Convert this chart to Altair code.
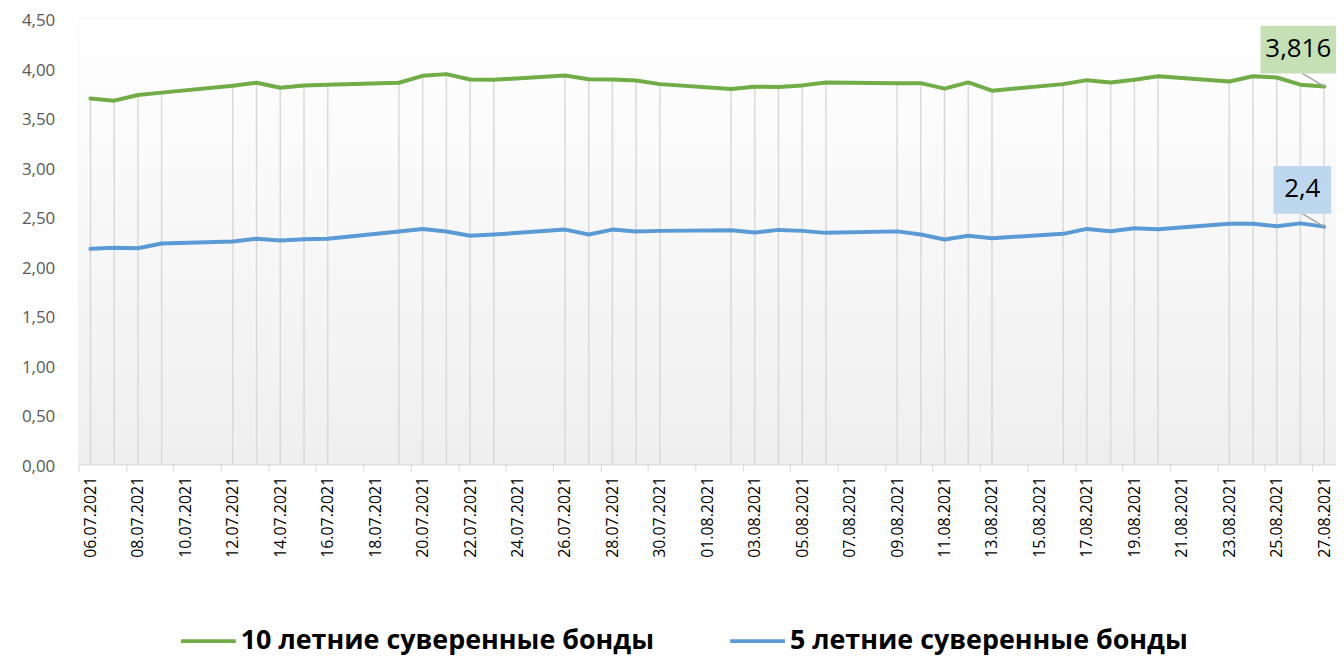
import altair as alt
import pandas as pd

# ---- data ----
dates = [
    "2021-07-06", "2021-07-07", "2021-07-08", "2021-07-09",
    "2021-07-12", "2021-07-13", "2021-07-14", "2021-07-15", "2021-07-16",
    "2021-07-19", "2021-07-20", "2021-07-21", "2021-07-22", "2021-07-23",
    "2021-07-26", "2021-07-27", "2021-07-28", "2021-07-29", "2021-07-30",
    "2021-08-02", "2021-08-03", "2021-08-04", "2021-08-05", "2021-08-06",
    "2021-08-09", "2021-08-10", "2021-08-11", "2021-08-12", "2021-08-13",
    "2021-08-16", "2021-08-17", "2021-08-18", "2021-08-19", "2021-08-20",
    "2021-08-23", "2021-08-24", "2021-08-25", "2021-08-26", "2021-08-27",
]
bonds_10y = [
    3.693, 3.672, 3.729, 3.753,
    3.823, 3.853, 3.803, 3.826, 3.833,
    3.853, 3.923, 3.940, 3.886, 3.883,
    3.926, 3.889, 3.886, 3.876, 3.839,
    3.789, 3.813, 3.809, 3.826, 3.856,
    3.848, 3.849, 3.793, 3.856, 3.773,
    3.839, 3.879, 3.856, 3.883, 3.919,
    3.866, 3.919, 3.906, 3.833, 3.816,
]
bonds_5y = [
    2.176, 2.186, 2.182, 2.229,
    2.249, 2.277, 2.260, 2.273, 2.277,
    2.350, 2.377, 2.350, 2.308, 2.320,
    2.370, 2.320, 2.370, 2.350, 2.357,
    2.363, 2.340, 2.367, 2.357, 2.337,
    2.352, 2.320, 2.270, 2.307, 2.283,
    2.327, 2.377, 2.353, 2.383, 2.373,
    2.430, 2.430, 2.403, 2.433, 2.400,
]
series_names = ["10 летние суверенные бонды", "5 летние суверенные бонды"]
series_colors = ["#70ad47", "#5b9bd5"]
last_labels = ["3,816", "2,4"]
y_ticks = [0, 0.5, 1.0, 1.5, 2.0, 2.5, 3.0, 3.5, 4.0, 4.5]
x_label_days = [
    (7, 6), (7, 8), (7, 10), (7, 12), (7, 14), (7, 16), (7, 18), (7, 20),
    (7, 22), (7, 24), (7, 26), (7, 28), (7, 30), (8, 1), (8, 3), (8, 5),
    (8, 7), (8, 9), (8, 11), (8, 13), (8, 15), (8, 17), (8, 19), (8, 21),
    (8, 23), (8, 25), (8, 27),
]

# ---- tables ----
wide = pd.DataFrame({"date": dates, "v10": bonds_10y, "v5": bonds_5y})
long = pd.concat([
    pd.DataFrame({"date": dates, "value": bonds_10y, "series": series_names[0]}),
    pd.DataFrame({"date": dates, "value": bonds_5y, "series": series_names[1]}),
], ignore_index=True)
lab10 = pd.DataFrame({"date": [dates[-1]], "value": [bonds_10y[-1]], "label": [last_labels[0]]})
lab5 = pd.DataFrame({"date": [dates[-1]], "value": [bonds_5y[-1]], "label": [last_labels[1]]})

W, H = 1264, 448
FONT = "Open Sans"

x_scale = alt.Scale(
    type="utc",
    domain=[alt.DateTime(year=2021, month=7, date=5, hours=12, utc=True),
            alt.DateTime(year=2021, month=8, date=27, hours=12, utc=True)],
)
x_axis = alt.Axis(
    values=[alt.DateTime(year=2021, month=m, date=d, utc=True) for m, d in x_label_days],
    labelExpr="utcFormat(datum.value, '%d.%m.%Y')",
    labelAngle=-90, labelFontSize=16,
    labelColor="#000000", labelFont=FONT, labelPadding=5, labelOverlap=False,
    labelFlush=False, labelBound=False, tickOffset=-12, labelOffset=12,
    tickSize=7, tickColor="#d9d9d9", domainColor="#d9d9d9", domainWidth=1,
    grid=False, title=None,
)
x_enc = alt.X("date:T", scale=x_scale, axis=x_axis)
y_scale = alt.Scale(domain=[0, 4.5], nice=False, zero=True)
y_axis = alt.Axis(
    values=y_ticks, format=".2f", labelExpr="replace(datum.label, '.', ',')",
    labelFontSize=17, labelColor="#595959", labelFont=FONT, labelPadding=24,
    labelOffset=2,
    ticks=False, tickSize=0, domain=False, grid=False, title=None, labelFlush=False,
)

bg = alt.Chart(pd.DataFrame({"a": [0]})).mark_rect(
    color=alt.Gradient(
        gradient="linear", x1=0, x2=0, y1=0, y2=1,
        stops=[alt.GradientStop(offset=0, color="#ffffff"),
               alt.GradientStop(offset=0.12, color="#fdfdfd"),
               alt.GradientStop(offset=1, color="#efefef")],
    )
).encode(x=alt.value(0), x2=alt.value(W), y=alt.value(0), y2=alt.value(H))

drops = alt.Chart(wide).mark_rule(color="#d9d9d9", strokeWidth=1.5).encode(
    x=x_enc,
    y=alt.Y("v10:Q", scale=y_scale, axis=y_axis),
    y2=alt.Y2(datum=0),
)

lines = alt.Chart(long).mark_line(strokeWidth=4, strokeCap="round", strokeJoin="round").encode(
    x=x_enc,
    y=alt.Y("value:Q", scale=y_scale, axis=y_axis),
    color=alt.Color(
        "series:N",
        scale=alt.Scale(domain=series_names, range=series_colors),
        sort=series_names,
        legend=alt.Legend(
            title=None, orient="none", legendX=101, legendY=596, direction="horizontal",
            symbolType="stroke", symbolSize=3025, symbolStrokeWidth=4,
            labelFontSize=27, labelFont=FONT, labelFontWeight="bold", labelColor="#000000",
            labelOffset=3, columnPadding=68, labelLimit=800,
        ),
    ),
    detail="series:N",
)


def label_layers(df, box_color, box_x0, box_x1, text_dx):
    leader = alt.Chart(df).mark_rule(
        color="#a6a6a6", strokeWidth=1.5, xOffset=-22, yOffset=-13, x2Offset=0, y2Offset=0
    ).encode(x=x_enc, x2="date:T", y=alt.Y("value:Q", scale=y_scale, axis=y_axis), y2="value:Q")
    box = alt.Chart(df).mark_rect(
        color=box_color, xOffset=box_x0, x2Offset=box_x1, yOffset=-61, y2Offset=-13
    ).encode(x=x_enc, x2="date:T", y=alt.Y("value:Q", scale=y_scale, axis=y_axis), y2="value:Q")
    txt = alt.Chart(df).mark_text(
        font=FONT, fontSize=26, color="#000000", align="center", baseline="middle",
        dx=text_dx, dy=-38,
    ).encode(x=x_enc, y=alt.Y("value:Q", scale=y_scale, axis=y_axis), text="label:N")
    return [leader, box, txt]


layers = [bg, drops, lines]
layers += label_layers(lab10, "#c5e0b4", -64, 15, -26)
layers += label_layers(lab5, "#bdd7ee", -51, 7, -22)

chart = alt.layer(*layers).properties(
    width=W, height=H,
    autosize=alt.AutoSizeParams(type="none"),
    padding={"left": 71, "top": 9, "right": 0, "bottom": 191},
).configure_view(stroke=None).configure(font=FONT)

chart.save("out.html", embed_options={"renderer": "svg", "actions": False})
